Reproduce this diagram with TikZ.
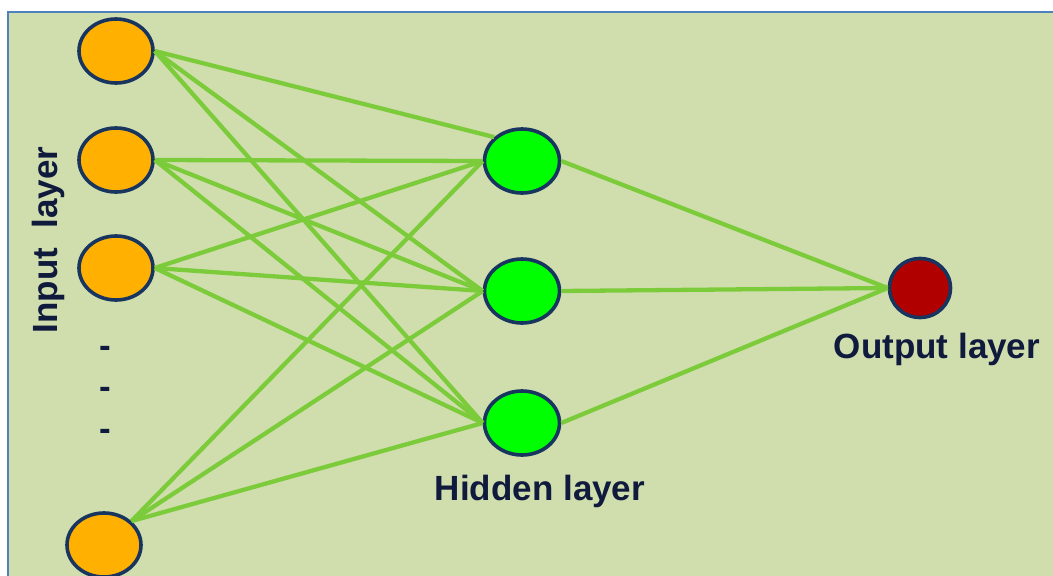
\documentclass[tikz,border=0pt]{standalone}
\usepackage{fontspec}
\setmainfont{Liberation Sans}
\usetikzlibrary{shapes.geometric}
\definecolor{bggreen}{HTML}{D0DEAE}
\definecolor{frameblue}{HTML}{4F81BD}
\definecolor{wire}{HTML}{7CCB3A}
\definecolor{rim}{HTML}{17355F}
\definecolor{inorange}{HTML}{FFB000}
\definecolor{hidgreen}{HTML}{00FF00}
\definecolor{outred}{HTML}{B00000}
\definecolor{labelnavy}{HTML}{0F1A3C}

\begin{document}
\begin{tikzpicture}[x=1pt,y=-1pt,
	neuron/.style={ellipse,draw=rim,line width=3.6pt,inner sep=0pt},
	inode/.style={neuron,fill=inorange,minimum width=74pt,minimum height=64pt},
	hnode/.style={neuron,fill=hidgreen,minimum width=75pt,minimum height=64pt},
	onode/.style={neuron,fill=outred,minimum width=61pt,minimum height=59pt},
	wire/.style={draw=wire,line width=4.3pt},
	lbl/.style={text=labelnavy,font=\bfseries\fontsize{35}{40}\selectfont,inner sep=0pt}]
	\useasboundingbox (0,0) rectangle (1053,576);
	\fill[white] (0,0) rectangle (1053,576);
	\fill[bggreen] (8,12) rectangle (1053,576);
	\draw[frameblue,line width=2.2pt] (8,576) -- (8,12) -- (1053,12);
	% input layer
	\node[inode] (in1) at (116,51) {};
	\node[inode] (in2) at (116,160) {};
	\node[inode] (in3) at (116,268) {};
	\node[inode] (inN) at (104,545) {};
	\node[lbl] (dot1) at (105,352) {-};
	\node[lbl] (dot2) at (105,393) {-};
	\node[lbl] (dot3) at (105,435) {-};
	\node[lbl,rotate=90] (inlabel) at (48,240) {Input~~layer};
	% hidden layer
	\node[hnode] (hid1) at (522,161) {};
	\node[hnode] (hid2) at (522,291) {};
	\node[hnode] (hid3) at (522,423) {};
	\node[lbl] (hidlabel) at (540,491) {Hidden layer};
	% output layer
	\node[onode] (out) at (920,288) {};
	\node[lbl] (outlabel) at (937,349) {Output layer};
	% connections
	\draw[wire] (in1.east) -- (hid1.north west);
	\draw[wire] (in1.east) -- (hid2.west);
	\draw[wire] (in1.east) -- (hid3.west);
	\draw[wire] (in2.east) -- (hid1.west);
	\draw[wire] (in2.east) -- (hid2.west);
	\draw[wire] (in2.east) -- (hid3.west);
	\draw[wire] (in3.east) -- (hid1.west);
	\draw[wire] (in3.east) -- (hid2.west);
	\draw[wire] (in3.east) -- (hid3.west);
	\draw[wire] (inN.north east) -- (hid1.west);
	\draw[wire] (inN.north east) -- (hid2.west);
	\draw[wire] (inN.north east) -- (hid3.west);
	\draw[wire] (hid1.east) -- (out.west);
	\draw[wire] (hid2.east) -- (out.west);
	\draw[wire] (hid3.east) -- (out.west);
\end{tikzpicture}
\end{document}
